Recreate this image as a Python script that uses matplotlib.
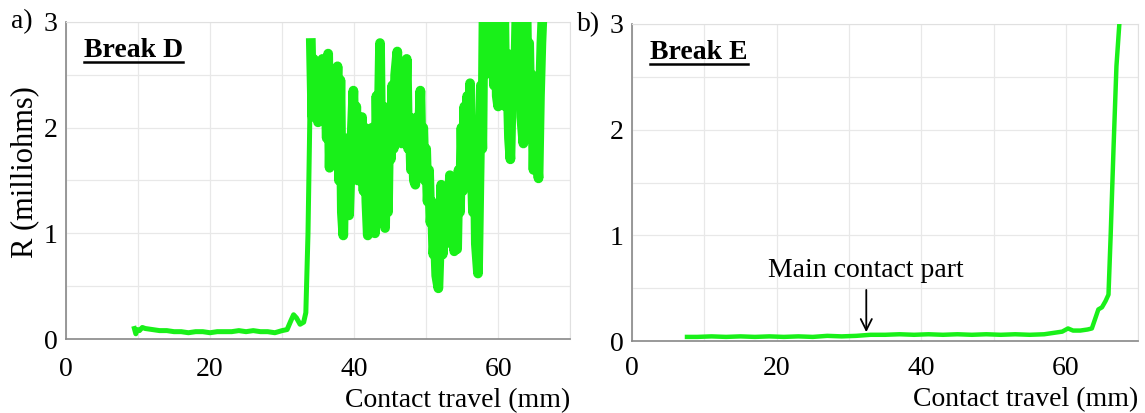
import matplotlib
matplotlib.use("Agg")
import matplotlib.pyplot as plt
from matplotlib.lines import Line2D
from matplotlib.ticker import MultipleLocator

plt.rcParams['font.family'] = ['Liberation Serif', 'DejaVu Serif']

# Break D: flat contact part ...
d_flat_x = [9.5, 9.7, 9.9, 10.2, 10.6, 11.0, 12, 13, 14, 15, 16, 17, 18, 19,
            20, 21, 22, 23, 24, 25, 26, 27, 28, 29, 30, 30.7, 31.2, 31.6, 32.0,
            32.5, 33.0, 33.3, 33.6, 33.8, 34.0]
d_flat_r = [0.10, 0.05, 0.09, 0.08, 0.11, 0.10, 0.09, 0.08, 0.08, 0.07, 0.07,
            0.06, 0.07, 0.07, 0.06, 0.07, 0.07, 0.07, 0.08, 0.07, 0.08, 0.07,
            0.07, 0.06, 0.08, 0.09, 0.17, 0.23, 0.20, 0.14, 0.16, 0.25, 1.0,
            1.85, 2.8]
# ... then the noisy arcing part
d_arc_x = [34.0, 34.2, 34.4, 34.6, 34.8, 35.0, 35.2, 35.4, 35.6, 35.8, 36.0,
           36.2, 36.4, 36.6, 36.8, 37.0, 37.2, 37.4, 37.7, 37.9, 38.1, 38.3,
           38.5, 38.7, 38.9, 39.1, 39.3, 39.5, 39.7, 39.9, 40.1, 40.3, 40.5,
           40.7, 40.9, 41.1, 41.3, 41.5, 41.7, 41.9, 42.1, 42.3, 42.5, 42.7,
           42.9, 43.1, 43.3, 43.6, 43.8, 44.0, 44.3, 44.5, 44.7, 44.9, 45.1,
           45.3, 45.5, 45.7, 46.0, 46.2, 46.4, 46.6, 46.8, 47.0, 47.3, 47.5,
           47.7, 47.9, 48.1, 48.3, 48.5, 48.7, 48.9, 49.2, 49.4, 49.6, 49.8,
           50.0, 50.2, 50.4, 50.6, 50.8, 51.0, 51.2, 51.4, 51.7, 51.9, 52.1,
           52.3, 52.5, 52.7, 52.9, 53.1, 53.3, 53.5, 53.7, 53.9, 54.1, 54.3,
           54.5, 54.7, 54.9, 55.1, 55.3, 55.5, 55.7, 55.9, 56.1, 56.3, 56.5,
           56.7, 56.9, 57.2, 57.4, 57.6, 57.8, 58.0, 58.2, 58.4, 58.6, 58.8,
           59.0, 59.2, 59.4, 59.6, 59.8, 60.0, 60.2, 60.4, 60.6, 60.8, 61.0,
           61.2, 61.5, 61.7, 61.9, 62.1, 62.3, 62.6, 62.8, 63.0, 63.2, 63.5,
           63.7, 63.9, 64.1, 64.3, 64.5, 64.7, 64.9, 65.1, 65.3, 65.6, 65.8,
           66.0, 66.3]
d_arc_r = [2.8, 2.1, 2.65, 2.2, 2.6, 2.05, 2.55, 2.2, 2.65, 2.1, 2.4, 1.9, 2.7,
           1.62, 2.3, 1.9, 2.2, 1.85, 2.58, 1.5, 2.45, 1.2, 0.98, 1.8, 1.4,
           1.9, 1.17, 1.6, 2.0, 2.35, 1.7, 2.2, 1.5, 2.05, 1.6, 2.1, 1.4,
           2.0, 1.3, 0.98, 1.9, 1.1, 2.0, 1.5, 1.0, 2.3, 1.6, 2.8, 1.6,
           2.2, 1.05, 1.9, 1.2, 2.2, 1.7, 2.4, 1.8, 2.5, 2.72, 1.9, 2.4,
           1.85, 2.2, 1.9, 2.65, 1.8, 2.1, 1.6, 1.9, 1.5, 1.46, 2.1, 1.7,
           2.35, 1.6, 2.0, 1.5, 1.8, 1.3, 1.6, 1.1, 1.3, 0.8, 1.0, 0.6,
           0.48, 0.9, 1.46, 0.8, 1.2, 0.9, 1.4, 1.0, 1.55, 1.1, 1.5, 0.83,
           1.0, 0.85, 1.6, 1.2, 2.0, 1.4, 2.2, 1.6, 2.3, 1.5, 2.42, 1.7,
           1.2, 2.0, 0.9, 0.62, 1.5, 2.4, 1.8, 3.3, 2.5, 3.3, 2.6, 3.3,
           2.7, 3.3, 2.4, 3.3, 2.3, 2.2, 2.8, 3.3, 2.5, 3.3, 2.2, 2.7,
           1.9, 1.7, 2.4, 2.7, 2.3, 3.3, 2.4, 2.9, 2.1, 1.85, 2.6, 3.3,
           2.3, 2.8, 2.0, 2.5, 1.6, 2.2, 1.8, 1.52, 2.3, 2.8, 3.3]

# Break E: low resistance until the very end
e_x = [7.6, 9, 11, 13, 15, 17, 19, 21, 23, 25, 27, 29, 31, 33, 35, 37, 39,
       41, 43, 45, 47, 49, 51, 53, 55, 57, 58.5, 59.5, 60.3, 61, 62, 63, 63.6,
       64.1, 64.5, 65.0, 65.5, 65.9, 66.2, 66.6, 67.0, 67.3, 67.6, 67.9]
e_r = [0.04, 0.04, 0.045, 0.04, 0.045, 0.04, 0.045, 0.04, 0.045, 0.04, 0.05,
       0.045, 0.05, 0.06, 0.06, 0.065, 0.06, 0.065, 0.06, 0.065, 0.06, 0.065,
       0.06, 0.065, 0.06, 0.065, 0.08, 0.09, 0.12, 0.10, 0.10, 0.11, 0.12,
       0.22, 0.30, 0.32, 0.38, 0.44, 1.0, 1.83, 2.6, 2.9, 3.2, 3.3]

x_ticks = [0, 20, 40, 60]
y_ticks = [0, 1, 2, 3]
green = '#19f019'

fig = plt.figure(figsize=(11.45, 4.13), dpi=100)
ax1 = fig.add_axes([0.0576, 0.179, 0.4404, 0.768])
ax2 = fig.add_axes([0.552, 0.174, 0.442, 0.768])

ax1.plot(d_flat_x, d_flat_r, color=green, lw=3.6, solid_joinstyle='round', zorder=3)
ax1.plot(d_arc_x, d_arc_r, color=green, lw=7, solid_joinstyle='round', zorder=3)
ax2.plot(e_x, e_r, color=green, lw=3.2, solid_joinstyle='round', zorder=3)

panels = [(ax1, 'Break D', 13), (ax2, 'Break E', 11)]

for ax, title, xpad in panels:
    ax.set_xlim(0, 70)
    ax.set_ylim(0, 3)
    ax.set_xticks(x_ticks)
    ax.set_yticks(y_ticks)
    ax.xaxis.set_minor_locator(MultipleLocator(10))
    ax.yaxis.set_minor_locator(MultipleLocator(0.5))
    ax.grid(True, which='both', color='#e8e8e8', lw=0.9)
    ax.set_axisbelow(True)
    ax.tick_params(which='both', length=0, labelsize=20)
    ax.tick_params(axis='x', pad=xpad)
    ax.tick_params(axis='y', pad=6)
    for side in ['left', 'bottom']:
        ax.spines[side].set_color('#888888')
        ax.spines[side].set_linewidth(1.2)
    for side in ['top', 'right']:
        ax.spines[side].set_color('#e0e0e0')
    ax.set_xlabel('Contact travel (mm)', fontsize=20, loc='right', labelpad=4)
    ax.text(0.036, 0.91, title, transform=ax.transAxes, fontsize=20,
            fontweight='bold', va='center', ha='left')

ax1.set_ylabel('R (milliohms)', fontsize=22)
ax1.yaxis.set_label_coords(-0.054, 0.525)
fig.text(0.010, 0.947, 'a)', fontsize=20, va='center')
fig.text(0.504, 0.940, 'b)', fontsize=20, va='center')

ax2.annotate('Main contact part', xy=(32.4, 0.085), xytext=(32.4, 0.55),
             fontsize=20, ha='center', va='bottom',
             arrowprops=dict(arrowstyle='->', color='black', lw=1.3,
                             shrinkA=3, shrinkB=0))

# underline the panel titles
fig.canvas.draw()
inv = fig.transFigure.inverted()
for t in ax1.texts + ax2.texts:
    if t.get_text().startswith('Break'):
        bb = t.get_window_extent()
        (x0, y0), (x1, _) = inv.transform([(bb.x0, bb.y0), (bb.x1, bb.y1)])
        fig.add_artist(Line2D([x0, x1], [y0 + 0.002, y0 + 0.002], color='black',
                              lw=1.8, transform=fig.transFigure))

fig.savefig('out.png', dpi=100)
